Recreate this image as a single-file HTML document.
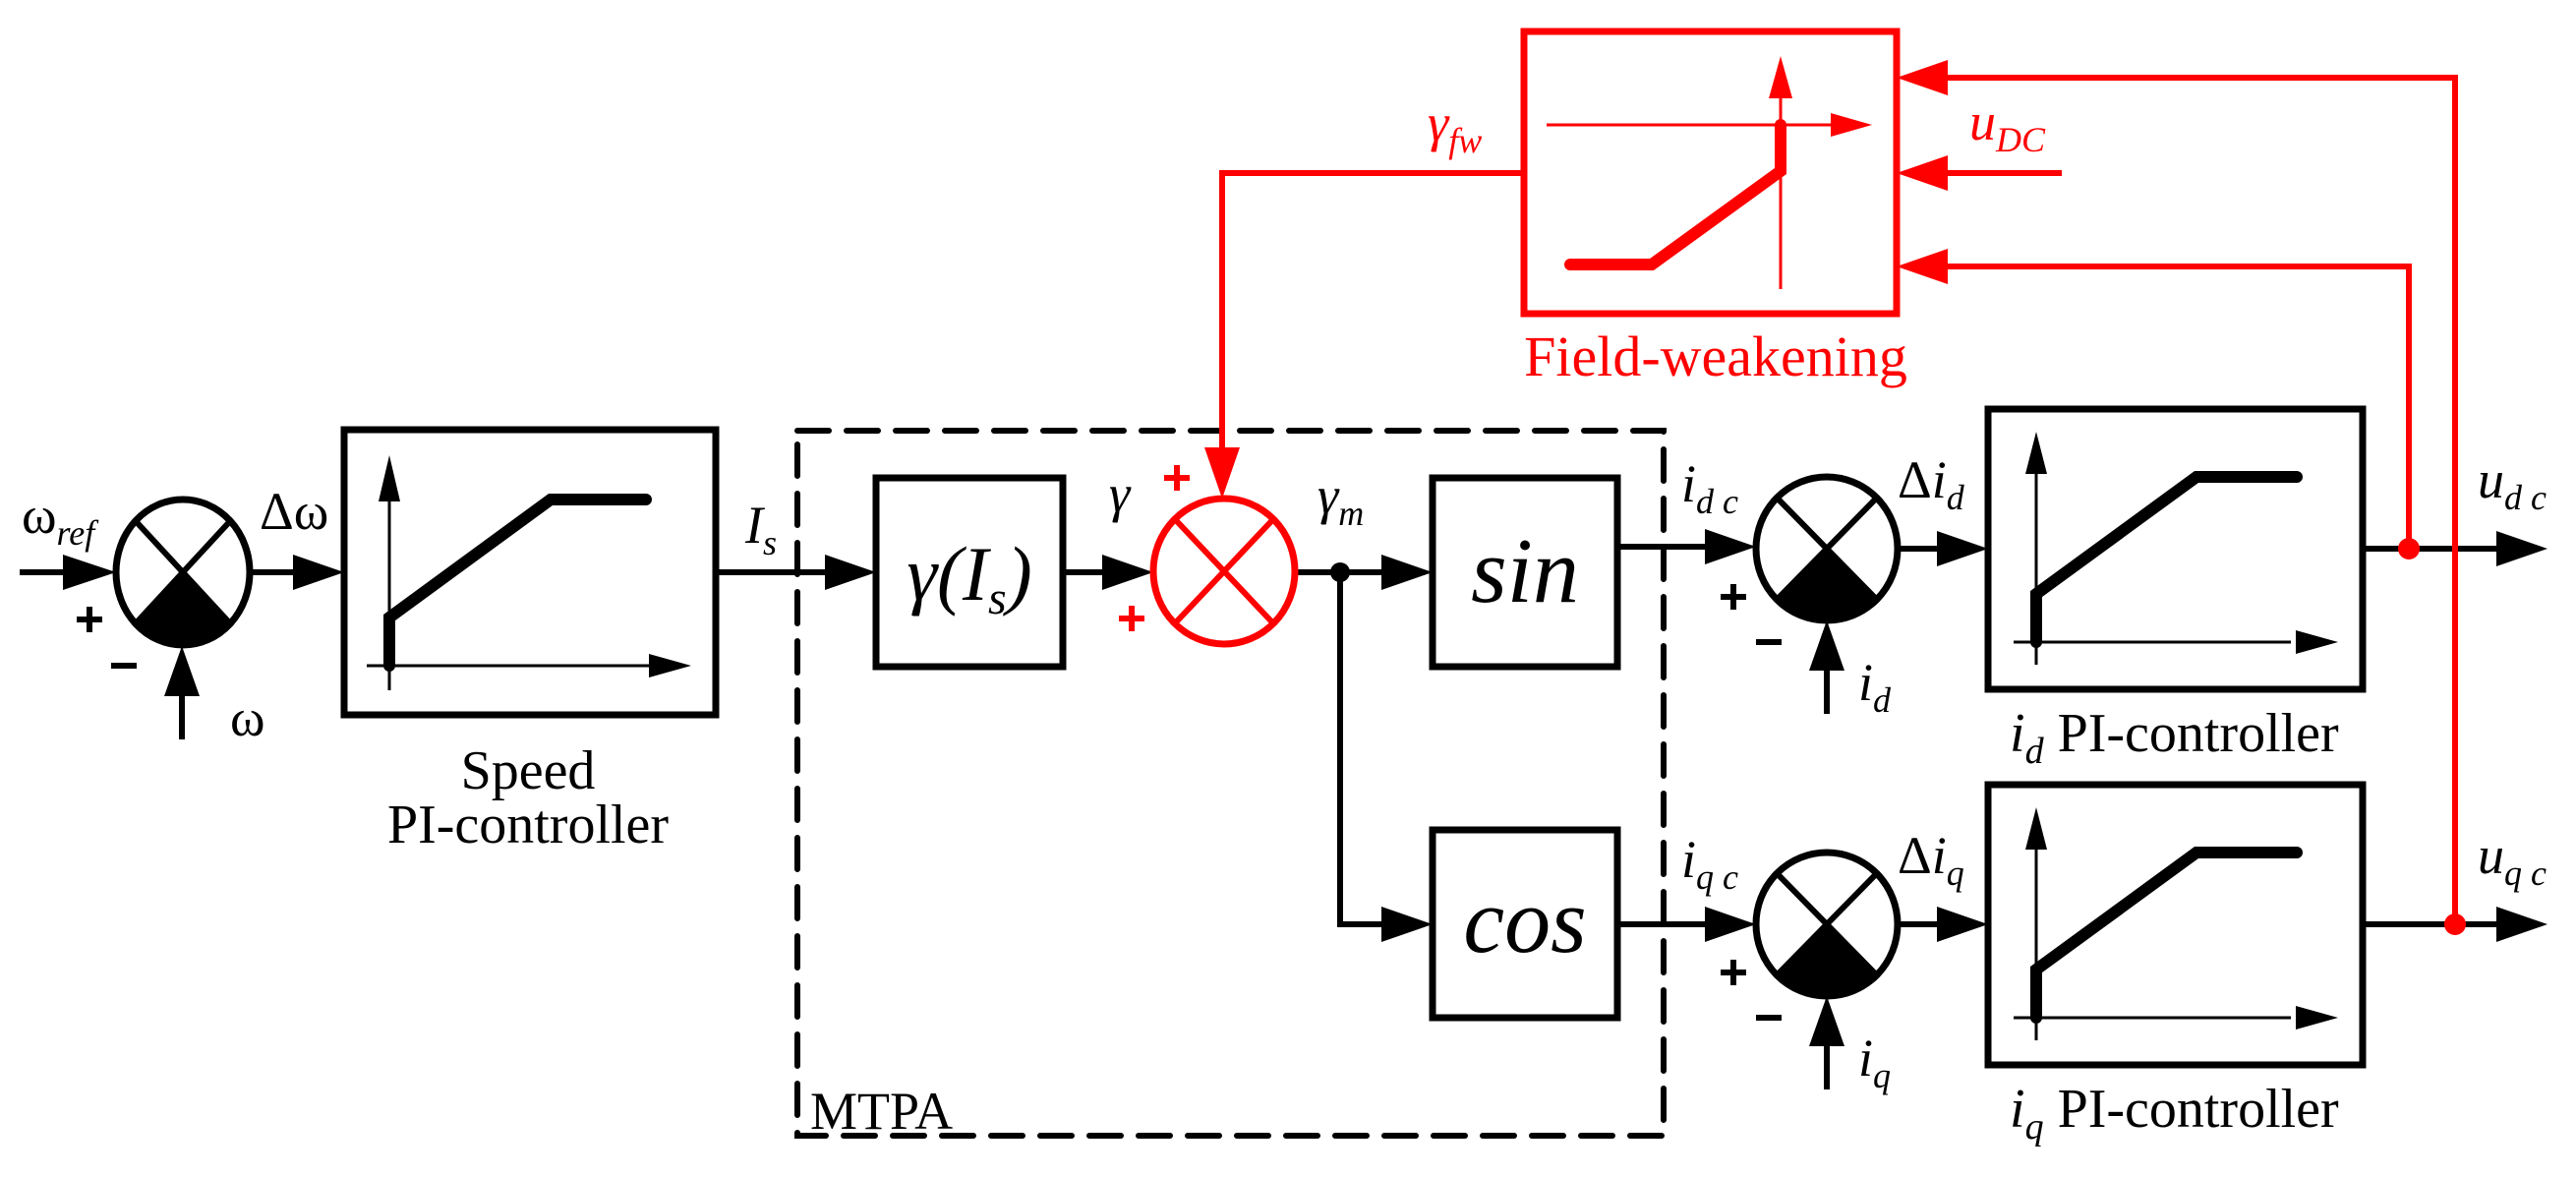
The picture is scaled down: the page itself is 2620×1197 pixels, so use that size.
<!DOCTYPE html>
<html><head><meta charset="utf-8"><style>
html,body{margin:0;padding:0;background:#fff;}
svg{display:block;}
text{font-family:"Liberation Serif",serif;}
</style></head><body>
<svg width="2620" height="1197" viewBox="0 0 2620 1197" xmlns="http://www.w3.org/2000/svg">
<g stroke="#000" stroke-width="6" fill="none">
  <line x1="20" y1="582" x2="70" y2="582"/>
  <line x1="254" y1="582" x2="300" y2="582"/>
  <line x1="728" y1="582" x2="840" y2="582"/>
  <line x1="1081" y1="582" x2="1125" y2="582"/>
  <line x1="1317" y1="582" x2="1410" y2="582"/>
  <polyline points="1363,582 1363,940 1410,940"/>
  <line x1="1645" y1="556" x2="1740" y2="556"/>
  <line x1="1645" y1="940" x2="1740" y2="940"/>
  <line x1="1930" y1="558" x2="1975" y2="558"/>
  <line x1="1930" y1="940" x2="1975" y2="940"/>
  <line x1="2403" y1="558" x2="2545" y2="558"/>
  <line x1="2403" y1="940" x2="2545" y2="940"/>
  <line x1="185" y1="752" x2="185" y2="700"/>
  <line x1="1858" y1="726" x2="1858" y2="675"/>
  <line x1="1858" y1="1108" x2="1858" y2="1057"/>
  <rect x="350" y="437" width="378" height="290" stroke-width="7"/>
  <rect x="891" y="486" width="190" height="192" stroke-width="7"/>
  <rect x="1457" y="486" width="188" height="192" stroke-width="7"/>
  <rect x="1457" y="844" width="188" height="191" stroke-width="7"/>
  <rect x="2022" y="416" width="381" height="285" stroke-width="7"/>
  <rect x="2022" y="798" width="381" height="285" stroke-width="7"/>
  <rect x="811" y="438" width="881" height="717" stroke-width="6" stroke-dasharray="32,18" stroke-linecap="round"/>
  <ellipse cx="186" cy="582" rx="68" ry="74" stroke-width="7"/>
  <ellipse cx="1858" cy="558" rx="72" ry="73" stroke-width="7"/>
  <ellipse cx="1858" cy="940" rx="72" ry="73" stroke-width="7"/>
  <line x1="396" y1="702" x2="396" y2="500" stroke-width="3"/>
  <line x1="373" y1="677" x2="660" y2="677" stroke-width="3"/>
  <polyline points="396,677 396,628 560,508 657,508" stroke-width="12" stroke-linecap="round"/>
  <line x1="2071" y1="676" x2="2071" y2="470" stroke-width="3"/>
  <line x1="2048" y1="653" x2="2330" y2="653" stroke-width="3"/>
  <polyline points="2071,653 2071,604 2234,485 2336,485" stroke-width="12" stroke-linecap="round"/>
  <line x1="2071" y1="1058" x2="2071" y2="852" stroke-width="3"/>
  <line x1="2048" y1="1035" x2="2330" y2="1035" stroke-width="3"/>
  <polyline points="2071,1035 2071,986 2234,867 2336,867" stroke-width="12" stroke-linecap="round"/>
</g>
<g stroke="#000" stroke-width="6">
  <line x1="138" y1="530" x2="234" y2="634"/><line x1="234" y1="530" x2="138" y2="634"/>
  <line x1="1807" y1="506" x2="1909" y2="610"/><line x1="1909" y1="506" x2="1807" y2="610"/>
  <line x1="1807" y1="888" x2="1909" y2="992"/><line x1="1909" y1="888" x2="1807" y2="992"/>
</g>
<g fill="#000">
  <path d="M186,582 L138,634 A68,74 0 0 0 234,634 Z"/>
  <path d="M1858,558 L1807,610 A72,73 0 0 0 1909,610 Z"/>
  <path d="M1858,940 L1807,992 A72,73 0 0 0 1909,992 Z"/>
  <circle cx="1363" cy="582" r="10"/>
  <polygon points="64,564 118,582 64,600"/>
  <polygon points="298,564 350,582 298,600"/>
  <polygon points="839,564 891,582 839,600"/>
  <polygon points="1121,564 1173,582 1121,600"/>
  <polygon points="1405,564 1457,582 1405,600"/>
  <polygon points="1405,922 1457,940 1405,958"/>
  <polygon points="1734,538 1786,556 1734,574"/>
  <polygon points="1734,922 1786,940 1734,958"/>
  <polygon points="1970,540 2022,558 1970,576"/>
  <polygon points="1970,922 2022,940 1970,958"/>
  <polygon points="2539,540 2591,558 2539,576"/>
  <polygon points="2539,922 2591,940 2539,958"/>
  <polygon points="167,708 185,657 203,708"/>
  <polygon points="1840,682 1858,631 1876,682"/>
  <polygon points="1840,1064 1858,1013 1876,1064"/>
  <polygon points="385,510 396,463 407,510"/>
  <polygon points="660,665 703,677 660,689"/>
  <polygon points="2060,482 2071,439 2082,482"/>
  <polygon points="2335,641 2378,653 2335,665"/>
  <polygon points="2060,864 2071,821 2082,864"/>
  <polygon points="2335,1023 2378,1035 2335,1047"/>
</g>
<g stroke="#000" stroke-width="6">
  <line x1="78" y1="630" x2="104" y2="630"/><line x1="91" y1="617" x2="91" y2="643"/>
  <line x1="113" y1="677" x2="139" y2="677"/>
  <line x1="1750" y1="607" x2="1776" y2="607"/><line x1="1763" y1="594" x2="1763" y2="620"/>
  <line x1="1786" y1="653" x2="1812" y2="653"/>
  <line x1="1750" y1="989" x2="1776" y2="989"/><line x1="1763" y1="976" x2="1763" y2="1002"/>
  <line x1="1786" y1="1035" x2="1812" y2="1035"/>
</g>
<g stroke="#f00" fill="none" stroke-width="6">
  <rect x="1550" y="32" width="379" height="287" stroke-width="7"/>
  <ellipse cx="1245" cy="581" rx="72" ry="74" stroke-width="7"/>
  <line x1="1194" y1="527" x2="1296" y2="635"/><line x1="1296" y1="527" x2="1194" y2="635"/>
  <polyline points="1550,176 1243,176 1243,460"/>
  <polyline points="2497,940 2497,79 1975,79"/>
  <line x1="2097" y1="176" x2="1975" y2="176"/>
  <polyline points="2450,558 2450,271 1975,271"/>
  <line x1="1573" y1="127" x2="1870" y2="127" stroke-width="3"/>
  <line x1="1811" y1="294" x2="1811" y2="90" stroke-width="3"/>
  <polyline points="1597,269 1680,269 1811,174 1811,127" stroke-width="12" stroke-linecap="round"/>
  <line x1="1184" y1="486" x2="1210" y2="486"/><line x1="1197" y1="473" x2="1197" y2="499"/>
  <line x1="1138" y1="629" x2="1164" y2="629"/><line x1="1151" y1="616" x2="1151" y2="642"/>
</g>
<g fill="#f00">
  <polygon points="1225,455 1243,507 1261,455"/>
  <polygon points="1981,61 1929,79 1981,97"/>
  <polygon points="1981,158 1929,176 1981,194"/>
  <polygon points="1981,253 1929,271 1981,289"/>
  <polygon points="1799,100 1811,57 1823,100"/>
  <polygon points="1862,115 1904,127 1862,139"/>
  <circle cx="2450" cy="558" r="11"/>
  <circle cx="2497" cy="940" r="11"/>
</g>
<g font-size="54" fill="#000">
  <text x="22" y="542">ω<tspan font-style="italic" font-size="36" dy="12">ref</tspan></text>
  <text x="234" y="748">ω</text>
  <text x="264" y="538">Δω</text>
  <text x="537" y="802" text-anchor="middle" font-size="56">Speed</text>
  <text x="537" y="857" text-anchor="middle" font-size="56">PI-controller</text>
  <text x="758" y="552" font-style="italic">I<tspan font-size="36" dy="12">s</tspan></text>
  <text x="986" y="610" font-style="italic" font-size="78" text-anchor="middle">γ(I<tspan font-size="48" dy="14">s</tspan><tspan dy="-14">)</tspan></text>
  <text x="1128" y="520" font-style="italic">γ</text>
  <text x="1340" y="522" font-style="italic">γ<tspan font-size="36" dy="12">m</tspan></text>
  <text x="1551" y="612" font-style="italic" font-size="94" text-anchor="middle">sin</text>
  <text x="1551" y="968" font-style="italic" font-size="94" text-anchor="middle">cos</text>
  <text x="824" y="1148" font-size="54">MTPA</text>
  <text x="1710" y="510" font-style="italic">i<tspan font-size="36" dy="12">d c</tspan></text>
  <text x="1710" y="892" font-style="italic">i<tspan font-size="36" dy="12">q c</tspan></text>
  <text x="1930" y="506">Δ<tspan font-style="italic">i</tspan><tspan font-style="italic" font-size="36" dy="12">d</tspan></text>
  <text x="1930" y="888">Δ<tspan font-style="italic">i</tspan><tspan font-style="italic" font-size="36" dy="12">q</tspan></text>
  <text x="1890" y="712" font-style="italic">i<tspan font-size="36" dy="12">d</tspan></text>
  <text x="1890" y="1094" font-style="italic">i<tspan font-size="36" dy="12">q</tspan></text>
  <text x="2520" y="506" font-style="italic">u<tspan font-size="36" dy="12">d c</tspan></text>
  <text x="2520" y="888" font-style="italic">u<tspan font-size="36" dy="12">q c</tspan></text>
  <text x="2044" y="764" font-size="56"><tspan font-style="italic">i</tspan><tspan font-style="italic" font-size="38" dy="12">d</tspan><tspan dy="-12"> PI-controller</tspan></text>
  <text x="2044" y="1146" font-size="56"><tspan font-style="italic">i</tspan><tspan font-style="italic" font-size="38" dy="12">q</tspan><tspan dy="-12"> PI-controller</tspan></text>
</g>
<g font-size="54" fill="#f00">
  <text x="1452" y="143" font-style="italic">γ<tspan font-size="36" dy="12">fw</tspan></text>
  <text x="2003" y="142" font-style="italic">u<tspan font-size="36" dy="12">DC</tspan></text>
  <text x="1745" y="382" text-anchor="middle" font-size="58">Field-weakening</text>
</g>
</svg>
</body></html>
